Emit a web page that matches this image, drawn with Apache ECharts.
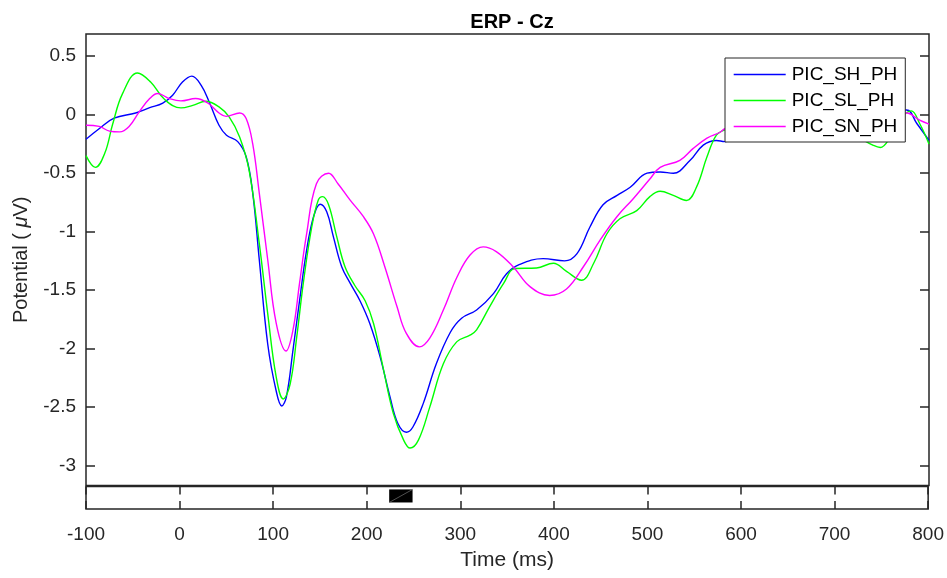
<!DOCTYPE html>
<html>
<head>
<meta charset="utf-8">
<title>ERP - Cz</title>
<script src="https://cdn.jsdelivr.net/npm/echarts@6/dist/echarts.min.js"></script>
<style>
  html, body { margin: 0; padding: 0; background: #fff; }
  #chart { width: 947px; height: 578px; }
</style>
</head>
<body>
<div id="chart"></div>
<script>
// ---- data (time in ms, potential in µV) ----
var timesSH = [-100, -86, -70, -47, -32, -18, -7.5, 3, 13, 23, 32, 42, 50, 62, 71, 78, 85, 94, 103, 109, 114, 121, 128, 135.5, 143, 150, 157, 164, 173, 182, 192.5, 203, 214, 224.5, 233, 242, 249, 260, 274, 289, 301, 317, 335, 349, 363, 388, 411, 424, 438, 452, 467, 481, 499, 513, 527, 545, 559, 573, 582, 600, 630, 660, 690, 720, 750, 776, 787, 800];
var valuesSH = [-0.21, -0.12, -0.03, 0.015, 0.06, 0.10, 0.167, 0.28, 0.33, 0.25, 0.10, -0.09, -0.175, -0.23, -0.36, -0.67, -1.24, -1.96, -2.36, -2.49, -2.41, -2.01, -1.59, -1.16, -0.87, -0.765, -0.83, -1.04, -1.30, -1.44, -1.59, -1.785, -2.07, -2.41, -2.64, -2.715, -2.67, -2.47, -2.13, -1.86, -1.74, -1.67, -1.53, -1.36, -1.28, -1.23, -1.25, -1.19, -0.96, -0.77, -0.69, -0.62, -0.50, -0.49, -0.50, -0.39, -0.26, -0.22, -0.23, -0.20, -0.12, -0.06, -0.02, 0.0, 0.02, 0.04, -0.075, -0.22];

var timesSL = [-100, -90, -80, -71.5, -61, -45, -31, -16, 1.4, 14, 28, 42, 53, 64, 74, 85, 94, 103, 110.6, 118, 125, 132, 141, 148, 152.6, 159, 167.6, 176.5, 187, 198, 207, 217, 228, 239, 246, 255, 267, 281.5, 296, 310, 317, 331, 346, 358, 381, 399, 413, 429, 442, 456, 470, 488, 502, 513, 527, 541, 552, 563, 573, 582, 600, 630, 660, 690, 720, 740, 748, 758, 770, 781, 790, 800];
var valuesSL = [-0.35, -0.45, -0.33, -0.08, 0.18, 0.357, 0.28, 0.13, 0.058, 0.08, 0.115, 0.067, -0.02, -0.19, -0.47, -1.10, -1.70, -2.24, -2.43, -2.30, -1.90, -1.44, -0.96, -0.73, -0.70, -0.77, -1.04, -1.30, -1.46, -1.59, -1.785, -2.155, -2.55, -2.78, -2.85, -2.78, -2.50, -2.13, -1.94, -1.885, -1.84, -1.64, -1.44, -1.315, -1.31, -1.27, -1.34, -1.415, -1.27, -1.02, -0.89, -0.82, -0.70, -0.655, -0.69, -0.733, -0.615, -0.36, -0.175, -0.13, -0.10, -0.08, -0.10, -0.12, -0.18, -0.26, -0.28, -0.20, -0.03, 0.033, -0.075, -0.25];

var timesSN = [-100, -86, -75, -64, -54, -43, -32, -23.5, -11, 1.4, 17, 30, 42, 49.5, 64, 71, 78, 85, 94, 103, 113.5, 121, 128, 135.5, 146, 159, 169, 182, 196, 207, 219, 232, 242, 256, 267, 281.5, 296, 310, 324, 338, 356, 374, 395, 413, 431, 449, 467, 484, 502, 513, 534, 548, 563, 577, 582, 600, 630, 660, 690, 720, 750, 776, 790, 800];
var valuesSN = [-0.09, -0.10, -0.14, -0.147, -0.10, 0.027, 0.138, 0.181, 0.138, 0.118, 0.138, 0.10, 0.015, -0.014, 0.015, -0.033, -0.25, -0.67, -1.24, -1.78, -2.02, -1.84, -1.44, -1.02, -0.59, -0.50, -0.59, -0.73, -0.87, -1.02, -1.30, -1.64, -1.87, -1.985, -1.91, -1.67, -1.39, -1.20, -1.13, -1.17, -1.30, -1.47, -1.545, -1.49, -1.30, -1.07, -0.87, -0.72, -0.55, -0.45, -0.39, -0.29, -0.20, -0.15, -0.12, -0.08, -0.03, 0.0, 0.02, 0.02, 0.0, 0.015, -0.047, -0.08];

var seriesNames = ['PIC_SH_PH', 'PIC_SL_PH', 'PIC_SN_PH'];
var yTicks = [-3, -2.5, -2, -1.5, -1, -0.5, 0, 0.5];
// significant window shown in the strip under the plot
var sigWindow = [224, 249];
var sigBox = [0.29, 0.87];

function pairs(t, v) {
  return t.map(function (x, i) { return [x, v[i]]; });
}

var chart = echarts.init(document.getElementById('chart'));
var font = 'Liberation Sans, Arial, Helvetica, sans-serif';
var ink = '#262626';

chart.setOption({
  animation: false,
  textStyle: { fontFamily: font },
  title: {
    text: 'ERP - Cz',
    left: 507,
    textAlign: 'center',
    top: 7,
    textStyle: { fontSize: 20, fontWeight: 'bold', color: '#000', fontFamily: font }
  },
  legend: {
    data: seriesNames,
    orient: 'vertical',
    left: 725,
    top: 58,
    padding: [7, 8, 6, 8],
    itemWidth: 52,
    itemHeight: 20,
    itemGap: 7,
    backgroundColor: '#fff',
    borderColor: ink,
    borderWidth: 1,
    borderRadius: 0,
    z: 10,
    itemStyle: { opacity: 0 },
    lineStyle: { width: 1.4 },
    textStyle: { fontSize: 19, color: '#000', fontFamily: font, padding: [0, 0, 0, 1] }
  },
  grid: [
    // main plot
    { left: 86, top: 34, right: 18, height: 451.5, show: true, borderColor: ink, borderWidth: 1.5, backgroundColor: 'transparent' },
    // strip under the plot
    { left: 86, top: 486.5, right: 18, height: 22.5, show: true, borderColor: ink, borderWidth: 1.5, backgroundColor: 'transparent' }
  ],
  xAxis: [
    { gridIndex: 0, type: 'value', min: -100, max: 800, show: false },
    {
      gridIndex: 1, type: 'value', min: -100, max: 800, interval: 100,
      axisLine: { show: false, onZero: false },
      axisTick: { inside: true, length: 8, lineStyle: { color: ink, width: 1.5 } },
      axisLabel: { margin: 16, fontSize: 19, color: ink, fontFamily: font },
      splitLine: { show: false },
      name: 'Time (ms)', nameLocation: 'middle', nameGap: 41,
      nameTextStyle: { fontSize: 21, color: ink, fontFamily: font }
    },
    {
      gridIndex: 1, type: 'value', min: -100, max: 800, interval: 100, position: 'top',
      axisLine: { show: false, onZero: false },
      axisTick: { inside: true, length: 8, lineStyle: { color: ink, width: 1.5 } },
      axisLabel: { show: false },
      splitLine: { show: false }
    }
  ],
  yAxis: [
    {
      gridIndex: 0, type: 'value', min: -3.17, max: 0.69,
      axisLine: { show: false, onZero: false },
      axisTick: { inside: true, length: 9, customValues: yTicks, lineStyle: { color: ink, width: 1.5 } },
      axisLabel: { margin: 10, fontSize: 19, color: ink, fontFamily: font, customValues: yTicks },
      splitLine: { show: false },
      name: 'Potential ( {mu|μ}V)', nameLocation: 'middle', nameGap: 55, nameRotate: 90,
      nameTextStyle: {
        fontSize: 20, color: ink, fontFamily: font,
        rich: { mu: { fontSize: 20, fontStyle: 'italic', color: ink, fontFamily: font } }
      }
    },
    {
      gridIndex: 0, type: 'value', min: -3.17, max: 0.69, position: 'right',
      axisLine: { show: false, onZero: false },
      axisTick: { inside: true, length: 9, customValues: yTicks, lineStyle: { color: ink, width: 1.5 } },
      axisLabel: { show: false },
      splitLine: { show: false }
    },
    { gridIndex: 1, type: 'value', min: 0, max: 1, show: false }
  ],
  series: [
    {
      name: seriesNames[0], type: 'line', xAxisIndex: 0, yAxisIndex: 0,
      data: pairs(timesSH, valuesSH), smooth: 0.4, symbol: 'none',
      lineStyle: { color: '#0000ff', width: 1.4 }, itemStyle: { color: '#0000ff' }
    },
    {
      name: seriesNames[1], type: 'line', xAxisIndex: 0, yAxisIndex: 0,
      data: pairs(timesSL, valuesSL), smooth: 0.4, symbol: 'none',
      lineStyle: { color: '#00ff00', width: 1.4 }, itemStyle: { color: '#00ff00' }
    },
    {
      name: seriesNames[2], type: 'line', xAxisIndex: 0, yAxisIndex: 0,
      data: pairs(timesSN, valuesSN), smooth: 0.4, symbol: 'none',
      lineStyle: { color: '#ff00ff', width: 1.4 }, itemStyle: { color: '#ff00ff' }
    },
    {
      name: 'sig', type: 'line', xAxisIndex: 1, yAxisIndex: 2,
      data: [[sigWindow[0], sigBox[0]], [sigWindow[1], sigBox[1]]],
      symbol: 'none', silent: true, z: 5,
      lineStyle: { color: '#666', width: 0.8 },
      markArea: {
        silent: true,
        itemStyle: { color: '#000' },
        data: [[{ coord: [sigWindow[0], sigBox[0]] }, { coord: [sigWindow[1], sigBox[1]] }]]
      }
    }
  ]
});
</script>
</body>
</html>
